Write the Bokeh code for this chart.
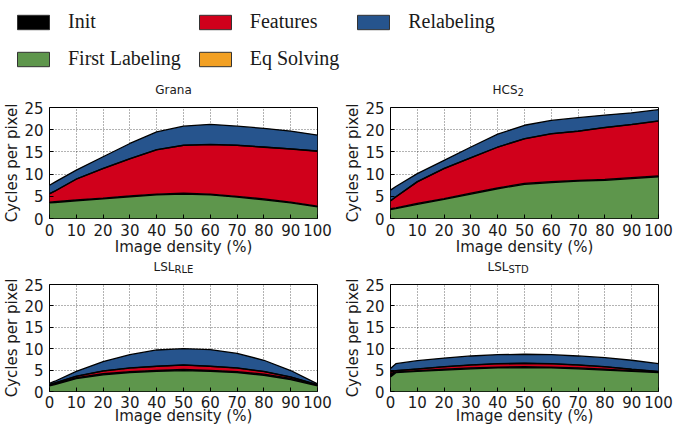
from bokeh.plotting import figure
from bokeh.layouts import column, row
from bokeh.models import (Range1d, SingleIntervalTicker, Legend, LegendItem, Label,
                          ColumnDataSource)
from bokeh.embed import file_html
from bokeh.resources import INLINE

# ---------------- data ----------------
density = [0, 2, 10, 20, 30, 40, 50, 60, 70, 80, 90, 100]

layer_names = ["First Labeling", "Init", "Features", "Eq Solving", "Relabeling"]
legend_order = ["Init", "First Labeling", "Features", "Eq Solving", "Relabeling"]
layer_colors = {
    "Init": "#000000",
    "First Labeling": "#5E964C",
    "Features": "#D0001B",
    "Eq Solving": "#F2A023",
    "Relabeling": "#26548D",
}

# Grana
grana_first = [3.5, 3.6, 4.0, 4.4, 4.9, 5.3, 5.5, 5.3, 4.8, 4.2, 3.5, 2.6]
grana_init = [0.2, 0.2, 0.2, 0.2, 0.2, 0.2, 0.2, 0.2, 0.2, 0.2, 0.2, 0.2]
grana_feat = [1.85, 2.35, 4.65, 6.65, 8.35, 9.95, 10.75, 11.15, 11.45, 11.65, 11.95, 12.35]
grana_eq = [0.05, 0.05, 0.05, 0.05, 0.05, 0.05, 0.05, 0.05, 0.05, 0.05, 0.05, 0.05]
grana_relab = [1.9, 2.0, 2.0, 2.6, 3.4, 4.0, 4.3, 4.5, 4.3, 4.2, 4.0, 3.6]

# HCS2
hcs_first = [2.0, 2.2, 3.2, 4.3, 5.5, 6.7, 7.7, 8.1, 8.4, 8.6, 9.0, 9.4]
hcs_init = [0.2, 0.2, 0.2, 0.2, 0.2, 0.2, 0.2, 0.2, 0.2, 0.2, 0.2, 0.2]
hcs_feat = [1.75, 2.45, 4.85, 6.75, 7.95, 9.15, 10.05, 10.75, 11.05, 11.65, 11.95, 12.35]
hcs_eq = [0.05, 0.05, 0.05, 0.05, 0.05, 0.05, 0.05, 0.05, 0.05, 0.05, 0.05, 0.05]
hcs_relab = [2.4, 2.3, 1.8, 1.8, 2.4, 2.9, 3.0, 3.0, 3.0, 2.8, 2.6, 2.5]

# LSL_RLE
rle_first = [1.3, 1.6, 3.0, 3.9, 4.4, 4.7, 4.9, 4.7, 4.4, 3.8, 2.8, 1.3]
rle_init = [0.25, 0.25, 0.25, 0.25, 0.25, 0.25, 0.25, 0.25, 0.25, 0.25, 0.25, 0.25]
rle_feat = [0.0, 0.1, 0.3, 0.6, 0.8, 0.9, 1.0, 0.9, 0.8, 0.6, 0.3, 0.0]
rle_eq = [0.05, 0.05, 0.05, 0.05, 0.05, 0.05, 0.05, 0.05, 0.05, 0.05, 0.05, 0.05]
rle_relab = [0.3, 0.4, 1.1, 2.2, 3.1, 3.8, 3.8, 3.9, 3.4, 2.6, 1.5, 0.2]

# LSL_STD
std_first = [3.4, 4.4, 4.7, 5.0, 5.3, 5.5, 5.6, 5.5, 5.3, 5.0, 4.7, 4.4]
std_init = [0.8, 0.2, 0.2, 0.2, 0.2, 0.2, 0.2, 0.2, 0.2, 0.2, 0.2, 0.2]
std_feat = [0.35, 0.25, 0.35, 0.55, 0.65, 0.75, 0.75, 0.75, 0.65, 0.55, 0.25, 0.05]
std_eq = [0.05, 0.05, 0.05, 0.05, 0.05, 0.05, 0.05, 0.05, 0.05, 0.05, 0.05, 0.05]
std_relab = [0.8, 1.6, 1.9, 2.0, 2.1, 2.1, 2.1, 2.1, 2.1, 2.1, 2.1, 1.8]

x_ticks_interval = 10
y_ticks_interval = 5

SANS = "DejaVu Sans"
TXT = "#1a1a1a"
FRAME_W = 268
STRIP_H = 17


def title_strip(title_parts, bl, br):
    t = figure(frame_width=FRAME_W, frame_height=STRIP_H, x_range=Range1d(0, 100),
               y_range=Range1d(0, STRIP_H), x_axis_type=None, y_axis_type=None,
               output_backend="svg", toolbar_location=None,
               min_border_left=bl, min_border_right=br, min_border_top=0, min_border_bottom=0)
    t.grid.visible = False
    t.outline_line_color = None
    main, sub, xoff_main, xoff_sub = title_parts
    if sub is None:
        t.add_layout(Label(x=50, y=9, text=main, text_align="center",
                           text_baseline="middle", text_font=SANS, text_font_size="12px",
                           text_color=TXT))
    else:
        t.add_layout(Label(x=50, y=9, x_offset=xoff_main, text=main,
                           text_align="left", text_baseline="middle", text_font=SANS,
                           text_font_size="12px", text_color=TXT))
        t.add_layout(Label(x=50, y=6.5, x_offset=xoff_sub, text=sub,
                           text_align="left", text_baseline="middle", text_font=SANS,
                           text_font_size="10px", text_color=TXT))
    return t


def panel(series, frame_h, bl, br, bt, bb, tick_standoff, label_standoff):
    src = ColumnDataSource(dict(x=density, **{k: v for k, v in zip(layer_names, series)}))
    p = figure(frame_width=FRAME_W, frame_height=frame_h, x_range=Range1d(0, 100),
               y_range=Range1d(0, 25), output_backend="svg", toolbar_location=None,
               min_border_left=bl, min_border_right=br, min_border_top=bt, min_border_bottom=bb)
    p.varea_stack(layer_names, x="x", source=src, color=[layer_colors[n] for n in layer_names])
    p.vline_stack(layer_names, x="x", source=src, color="black", line_width=1.3)

    p.outline_line_color = "black"
    p.outline_line_width = 1
    p.xaxis.ticker = SingleIntervalTicker(interval=x_ticks_interval)
    p.yaxis.ticker = SingleIntervalTicker(interval=y_ticks_interval)
    for ax in (p.xaxis[0], p.yaxis[0]):
        ax.axis_line_color = None
        ax.major_tick_in = 4
        ax.major_tick_out = 0
        ax.major_tick_line_color = "black"
        ax.minor_tick_line_color = None
        ax.major_label_text_font = SANS
        ax.major_label_text_font_size = "15px"
        ax.major_label_text_color = TXT
        ax.axis_label_text_font = SANS
        ax.axis_label_text_font_size = "15px"
        ax.axis_label_text_font_style = "normal"
        ax.axis_label_text_color = TXT
    p.xaxis.axis_label = "Image density (%)"
    p.yaxis.axis_label = "Cycles per pixel"
    p.xaxis.major_label_standoff = tick_standoff
    p.xaxis.axis_label_standoff = label_standoff
    p.yaxis.major_label_standoff = 2
    p.yaxis.axis_label_standoff = 0

    p.grid.grid_line_color = "black"
    p.grid.grid_line_alpha = 0.6
    p.grid.grid_line_dash = "1 2"
    p.grid.grid_line_width = 1
    return p


# column borders: col 1 -> left 39, right 24 ; col 2 -> left 43, right 15
t1 = title_strip(("Grana", None, 0, 0), 39, 24)
t2 = title_strip(("HCS", "2", -16, 9), 43, 15)
t3 = title_strip(("LSL", "RLE", -20, 1), 39, 24)
t4 = title_strip(("LSL", "STD", -21, 0), 43, 15)

p1 = panel([grana_first, grana_init, grana_feat, grana_eq, grana_relab], 111, 39, 24, 9, 35, 1, -1)
p2 = panel([hcs_first, hcs_init, hcs_feat, hcs_eq, hcs_relab], 111, 43, 15, 9, 35, 1, -1)
p3 = panel([rle_first, rle_init, rle_feat, rle_eq, rle_relab], 107, 39, 24, 9, 31, 0, -4)
p4 = panel([std_first, std_init, std_feat, std_eq, std_relab], 107, 43, 15, 9, 31, 0, -4)

# legend figure
lg = figure(width=657, height=81, x_range=Range1d(0, 1), y_range=Range1d(0, 1),
            output_backend="svg", toolbar_location=None,
            min_border_left=0, min_border_right=0, min_border_top=0, min_border_bottom=0)
lg.axis.visible = False
lg.grid.visible = False
lg.outline_line_color = None
items = []
for name in legend_order:
    src = ColumnDataSource(dict(l=[float("nan")], r=[float("nan")], t=[float("nan")], b=[float("nan")]))
    r = lg.quad(left="l", right="r", top="t", bottom="b", source=src,
                fill_color=layer_colors[name], line_color="#333333", line_width=1)
    items.append(LegendItem(label=name, renderers=[r]))
legend = Legend(items=items, location=(13, 11), orientation="vertical", ncols=3, nrows=2,
                glyph_width=40, glyph_height=18, label_standoff=15, spacing=14,
                padding=7, margin=0, border_line_color=None, background_fill_alpha=0,
                label_text_font="Liberation Serif", label_text_font_size="20px",
                label_text_color=TXT, label_height=18)
lg.add_layout(legend)

layout = column(lg, row(t1, t2), row(p1, p2), row(t3, t4), row(p3, p4))

open("out.html", "w").write(file_html(layout, INLINE))
